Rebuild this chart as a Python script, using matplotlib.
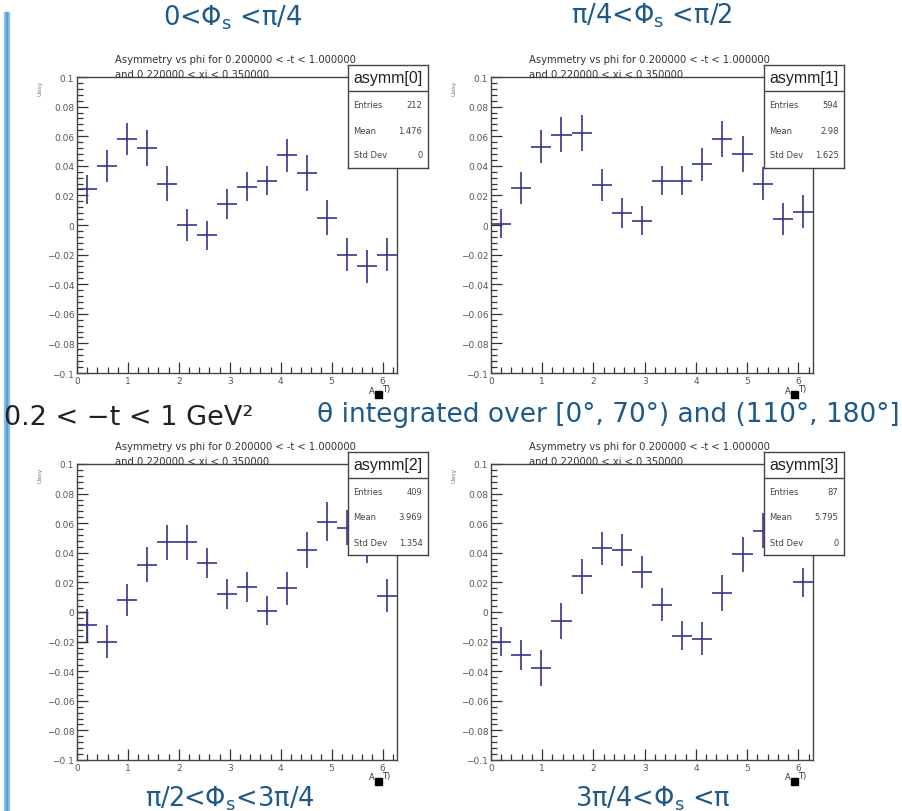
import matplotlib.pyplot as plt
import numpy as np
from matplotlib.ticker import FixedLocator, FixedFormatter, MultipleLocator

W, H = 903, 812

# phi bins: 16 equal bins over [0, 2pi]
n_bins = 16
phi_edges = np.linspace(0, 2 * np.pi, n_bins + 1)

# asymmetry per bin, one list per Phi_s slice
asym0 = [0.024, 0.040, 0.058, 0.052, 0.028, 0.000, -0.007, 0.014,
         0.026, 0.030, 0.047, 0.035, 0.005, -0.020, -0.028, -0.020]
asym1 = [0.001, 0.025, 0.053, 0.061, 0.062, 0.027, 0.008, 0.003,
         0.030, 0.030, 0.041, 0.058, 0.048, 0.028, 0.004, 0.009]
asym2 = [-0.009, -0.020, 0.008, 0.032, 0.047, 0.047, 0.033, 0.012,
         0.017, 0.001, 0.016, 0.042, 0.061, 0.057, 0.045, 0.011]
asym3 = [-0.020, -0.029, -0.038, -0.006, 0.024, 0.043, 0.042, 0.027,
         0.005, -0.016, -0.018, 0.013, 0.039, 0.055, 0.058, 0.020]

err0 = [0.010, 0.011, 0.011, 0.012, 0.012, 0.011, 0.010, 0.010,
        0.010, 0.010, 0.011, 0.012, 0.012, 0.011, 0.011, 0.011]
err1 = [0.010, 0.011, 0.011, 0.012, 0.012, 0.011, 0.010, 0.010,
        0.010, 0.010, 0.011, 0.012, 0.012, 0.011, 0.011, 0.011]
err2 = [0.011, 0.011, 0.011, 0.012, 0.012, 0.012, 0.010, 0.010,
        0.010, 0.010, 0.011, 0.012, 0.013, 0.012, 0.012, 0.011]
err3 = [0.010, 0.010, 0.012, 0.012, 0.012, 0.011, 0.011, 0.011,
        0.011, 0.010, 0.011, 0.012, 0.012, 0.012, 0.012, 0.010]

hist_names = ["asymm[0]", "asymm[1]", "asymm[2]", "asymm[3]"]
entries = ["212", "594", "409", "87"]
means = ["1.476", "2.98", "3.969", "5.795"]
std_devs = ["0", "1.625", "1.354", "0"]
slice_labels = ["0<Φ$\\mathregular{_s}$ <π/4", "π/4<Φ$\\mathregular{_s}$ <π/2",
                "π/2<Φ$\\mathregular{_s}$<3π/4", "3π/4<Φ$\\mathregular{_s}$ <π"]

y_ticks = [0.1, 0.08, 0.06, 0.04, 0.02, 0, -0.02, -0.04, -0.06, -0.08, -0.1]
y_tick_labels = ["0.1", "0.08", "0.06", "0.04", "0.02", "0",
                 "\u22120.02", "\u22120.04", "\u22120.06", "\u22120.08", "\u22120.1"]
x_ticks = [0, 1, 2, 3, 4, 5, 6]

plt.rcParams['font.family'] = ['DejaVu Sans']
title_blue = "#1d5a8a"
mark_color = "#34348e"


def fx(x):
    return x / W


def fy(y):
    return 1 - y / H


def panel(fig, x0, y0, x1, y1, vals, errs, name, n_ent, mean, sd):
    ax = fig.add_axes([fx(x0), fy(y1), (x1 - x0) / W, (y1 - y0) / H])
    centers = 0.5 * (phi_edges[:-1] + phi_edges[1:])
    half = 0.5 * np.diff(phi_edges)
    ax.errorbar(centers, vals, yerr=errs, xerr=half, fmt='none',
                ecolor=mark_color, elinewidth=1.2, capsize=0, zorder=2)
    ax.set_xlim(0, 2 * np.pi)
    ax.set_ylim(-0.1, 0.1)
    ax.yaxis.set_major_locator(FixedLocator(y_ticks))
    ax.yaxis.set_major_formatter(FixedFormatter(y_tick_labels))
    ax.yaxis.set_minor_locator(MultipleLocator(0.004))
    ax.xaxis.set_major_locator(FixedLocator(x_ticks))
    ax.xaxis.set_minor_locator(MultipleLocator(0.2))
    ax.tick_params(which='both', direction='in', top=False, right=False,
                   colors='#333333', labelsize=6.5, width=0.9, pad=2)
    ax.tick_params(which='major', length=8)
    ax.tick_params(which='minor', length=4)
    for lab in ax.get_xticklabels() + ax.get_yticklabels():
        lab.set_color('#555555')
    for s in ax.spines.values():
        s.set_color('#444444')
        s.set_linewidth(1.0)

    # histogram title above the frame
    fig.text(fx(x0 + 38), fy(y0 - 18), "Asymmetry vs phi for 0.200000 < -t < 1.000000",
             fontsize=7.2, color='#333333', va='center', ha='left')
    fig.text(fx(x0 + 38), fy(y0 - 3), "and 0.220000 < xi < 0.350000",
             fontsize=7.2, color='#333333', va='center', ha='left')
    # axis titles
    fig.text(fx(x0 - 37), fy(y0 + 10), "Uasy", fontsize=4.5, color='#777777',
             rotation=90, va='center', ha='center')
    fig.text(fx(x1 - 25), fy(y1 + 17), "A", fontsize=6, color='#333333',
             va='center', ha='center')
    fig.text(fx(x1 - 11), fy(y1 + 16), "T)", fontsize=6, color='#333333',
             va='center', ha='center')
    fig.patches.append(plt.Rectangle((fx(x1 - 22), fy(y1 + 25)), 7 / W, 7 / H,
                                     transform=fig.transFigure, color='black'))

    # stats box
    bx0, bx1 = x1 - 49, x1 + 31
    by0, by1 = y0 - 12, y0 + 91
    box = fig.add_axes([fx(bx0), fy(by1), (bx1 - bx0) / W, (by1 - by0) / H])
    box.set_xticks([])
    box.set_yticks([])
    box.set_xlim(0, 1)
    box.set_ylim(0, 1)
    for s in box.spines.values():
        s.set_color('#444444')
        s.set_linewidth(1.0)
    title_frac = 26 / (by1 - by0)
    box.axhline(1 - title_frac, color='#444444', lw=1.0)
    box.text(0.5, 1 - title_frac / 2, name, fontsize=11.5, color='#222222',
             ha='center', va='center', family='Liberation Sans')
    rows = [("Entries", n_ent), ("Mean", mean), ("Std Dev", sd)]
    for i, (k, v) in enumerate(rows):
        yy = 1 - (40 + 25 * i) / (by1 - by0)
        box.text(0.07, yy, k, fontsize=6.0, color='#444444', ha='left', va='center')
        box.text(0.93, yy, v, fontsize=6.0, color='#444444', ha='right', va='center')
    return ax


fig = plt.figure(figsize=(W / 100, H / 100), dpi=100)
fig.patch.set_facecolor('white')

# accent bar down the left side
fig.patches.append(plt.Rectangle((fx(4), fy(H)), 5 / W, (H - 13) / H,
                                 transform=fig.transFigure, color='#8cc0e8'))
fig.patches.append(plt.Rectangle((fx(6), fy(H)), 1.5 / W, (H - 13) / H,
                                 transform=fig.transFigure, color='#5c9fd6'))

frames = [(77, 78, 397, 374), (491, 78, 813, 374),
          (77, 465, 397, 761), (491, 465, 813, 761)]
all_vals = [asym0, asym1, asym2, asym3]
all_errs = [err0, err1, err2, err3]
axes = []
for k, (x0, y0, x1, y1) in enumerate(frames):
    axes.append(panel(fig, x0, y0, x1, y1, all_vals[k], all_errs[k],
                      hist_names[k], entries[k], means[k], std_devs[k]))

# leftover outline of the first bin in the third slice
ax3 = axes[2]
c0 = 0.5 * (phi_edges[0] + phi_edges[1])
low0 = asym2[0] - err2[0]
ax3.plot([0, c0, c0, 0], [0, 0, low0, low0], color='#555555', lw=1.0, zorder=1)

# slice labels
fig.text(fx(233), fy(18), slice_labels[0], fontsize=18.5, color=title_blue,
         ha='center', va='center')
fig.text(fx(652), fy(16), slice_labels[1], fontsize=18.5, color=title_blue,
         ha='center', va='center')
fig.text(fx(230), fy(799), slice_labels[2], fontsize=18.5, color=title_blue,
         ha='center', va='center')
fig.text(fx(653), fy(799), slice_labels[3], fontsize=18.5, color=title_blue,
         ha='center', va='center')
fig.text(fx(4), fy(418), "0.2 < \u2212t < 1 GeV\u00b2", fontsize=19.5, color='#222222',
         ha='left', va='center')
fig.text(fx(900), fy(415), "θ integrated over [0°, 70°) and (110°, 180°]",
         fontsize=19, color=title_blue, ha='right', va='center')

fig.savefig("out.png", dpi=100)
